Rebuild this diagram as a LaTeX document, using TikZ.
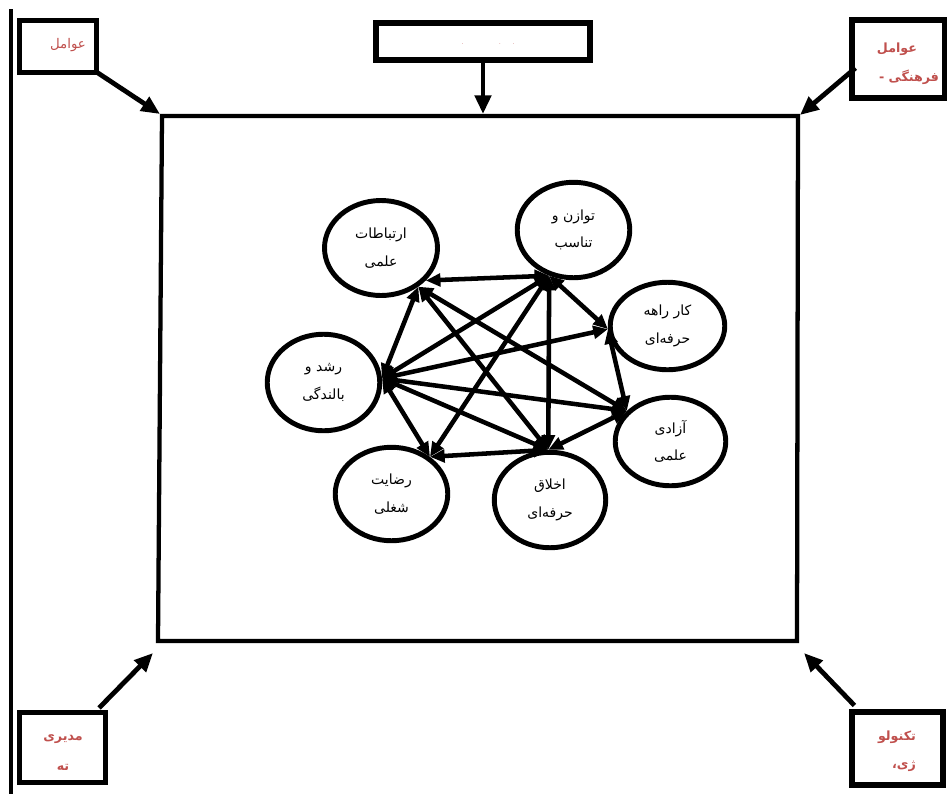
\documentclass[tikz,border=0pt]{standalone}
\usepackage{fontspec}
\usetikzlibrary{arrows.meta,shapes.geometric}
\newfontfamily\fa[Script=Arabic]{DejaVu Sans}
\TeXXeTstate=1
\definecolor{accred}{HTML}{C0504D}
\newcommand{\rl}[1]{\beginR #1\endR}
\begin{document}
\begin{tikzpicture}[x=0.75pt,y=-0.75pt,
  fbox/.style={draw, line width=3.8pt, inner sep=0pt},
  elli/.style={ellipse, draw, line width=3.7pt, inner sep=0pt, align=center,
    font=\fa\fontsize{10.5}{20.5}\selectfont},
  biarrow/.style={line width=3.4pt, {Triangle[length=11pt,width=9.5pt]}-{Triangle[length=11pt,width=9.5pt]}},
  outarrow/.style={line width=3.6pt, -{Triangle[length=14pt,width=12pt]}},
  redtxt/.style={text=accred, inner sep=0pt, font=\fa\fontsize{10}{18}\selectfont},
  redbold/.style={text=accred, inner sep=0pt, font=\fa\bfseries\fontsize{9.5}{18}\selectfont},
]
\useasboundingbox (0,0) rectangle (947,794);
\fill[white] (0,0) rectangle (947,794);

% left vertical rule
\coordinate (vtop) at (11,9);
\coordinate (vbot) at (11,794);
\draw[line width=3.2pt] (vtop) -- (vbot);

% outer boxes
\node[fbox, minimum width=57.75pt, minimum height=39pt] (tl) at (58,46.5) {};
\node[fbox, minimum width=160.5pt, minimum height=27.75pt] (tc) at (483,41.5) {};
\node[fbox, minimum width=69.75pt, minimum height=58.5pt] (tr) at (898.5,59) {};
\node[fbox, minimum width=64.5pt, minimum height=52.5pt] (bl) at (62.5,747.5) {};
\node[fbox, minimum width=68.25pt, minimum height=54.75pt] (br) at (897.5,748.5) {};

% box texts
\node[redtxt] (tlt) at (68,45) {\rl{عوامل}};
\node[text=accred, inner sep=0pt, font=\tiny] (tct) at (488,44) {.\hspace{26pt}.\hspace{8pt}.};
\node[redbold] (tr1) at (897,49) {\rl{عوامل}};
\node[redbold] (tr2) at (909,77) {\rl{فرهنگی -}};
\node[redbold] (bl1) at (63,739) {\rl{مدیری}};
\node[redbold] (bl2) at (63,767) {\rl{ته}};
\node[redbold] (br1) at (897,737) {\rl{تکنولو}};
\node[redbold] (br2) at (904,766) {\rl{ژی،}};

% main frame
\coordinate (m1) at (162,116);
\coordinate (m2) at (798,116);
\coordinate (m3) at (797,641);
\coordinate (m4) at (158,641);
\draw[line width=3.2pt] (m1) -- (m2) -- (m3) -- (m4) -- cycle;

% arrow targets
\coordinate (ttl) at (160,114);
\coordinate (ttc) at (483,114);
\coordinate (ttr) at (800,115);
\coordinate (tbl) at (153,653);
\coordinate (tbr) at (804,653);

\draw[outarrow] ([shift={(-4,-4)}]tl.south east) -- (ttl);
\draw[outarrow] (tc.south) -- (ttc);
\draw[outarrow] ([shift={(6,9)}]tr.west) -- (ttr);
\draw[outarrow] ([shift={(-9,-2)}]bl.north east) -- (tbl);
\draw[outarrow] ([shift={(5,-4)}]br.north west) -- (tbr);

% ellipses
\node[elli, minimum width=84.75pt, minimum height=71.25pt] (A) at (381,248) {\rl{ارتباطات}\\\rl{علمی}};
\node[elli, minimum width=84.4pt, minimum height=72.4pt] (R) at (323.5,382.5) {\rl{رشد و}\\\rl{بالندگی}};
\node[elli, minimum width=84.4pt, minimum height=71.6pt] (T) at (573.5,230) {\rl{توازن و}\\\rl{تناسب}};
\node[elli, minimum width=85.9pt, minimum height=65.6pt] (K) at (667.5,326) {\rl{کار راهه}\\\rl{حرفه‌ای}};
\node[elli, minimum width=82.9pt, minimum height=66.4pt] (Z) at (670.5,441.5) {\rl{آزادی}\\\rl{علمی}};
\node[elli, minimum width=84.4pt, minimum height=70.1pt] (S) at (391.5,494) {\rl{رضایت}\\\rl{شغلی}};
\node[elli, minimum width=83.6pt, minimum height=71.6pt] (E) at (550,500) {\rl{اخلاق}\\\rl{حرفه‌ای}};

% relations
\draw[biarrow] (R.4) -- (A.-46);
\draw[biarrow] (A.-36) -- (T.-118);
\draw[biarrow] (A.-46) -- (E.92);
\draw[biarrow] (A.-46) -- (Z.145);
\draw[biarrow] (R.4) -- (T.-118);
\draw[biarrow] (R.4) -- (K.183);
\draw[biarrow] (R.4) -- (Z.145);
\draw[biarrow] (R.4) -- (E.92);
\draw[biarrow] (R.4) -- (S.44);
\draw[biarrow] (T.-118) -- (S.44);
\draw[biarrow] (T.-118) -- (E.92);
\draw[biarrow] (T.-118) -- (K.183);
\draw[biarrow] (K.183) -- (Z.145);
\draw[biarrow] (Z.145) -- (E.92);
\draw[biarrow] (E.92) -- (S.44);
\end{tikzpicture}
\end{document}
